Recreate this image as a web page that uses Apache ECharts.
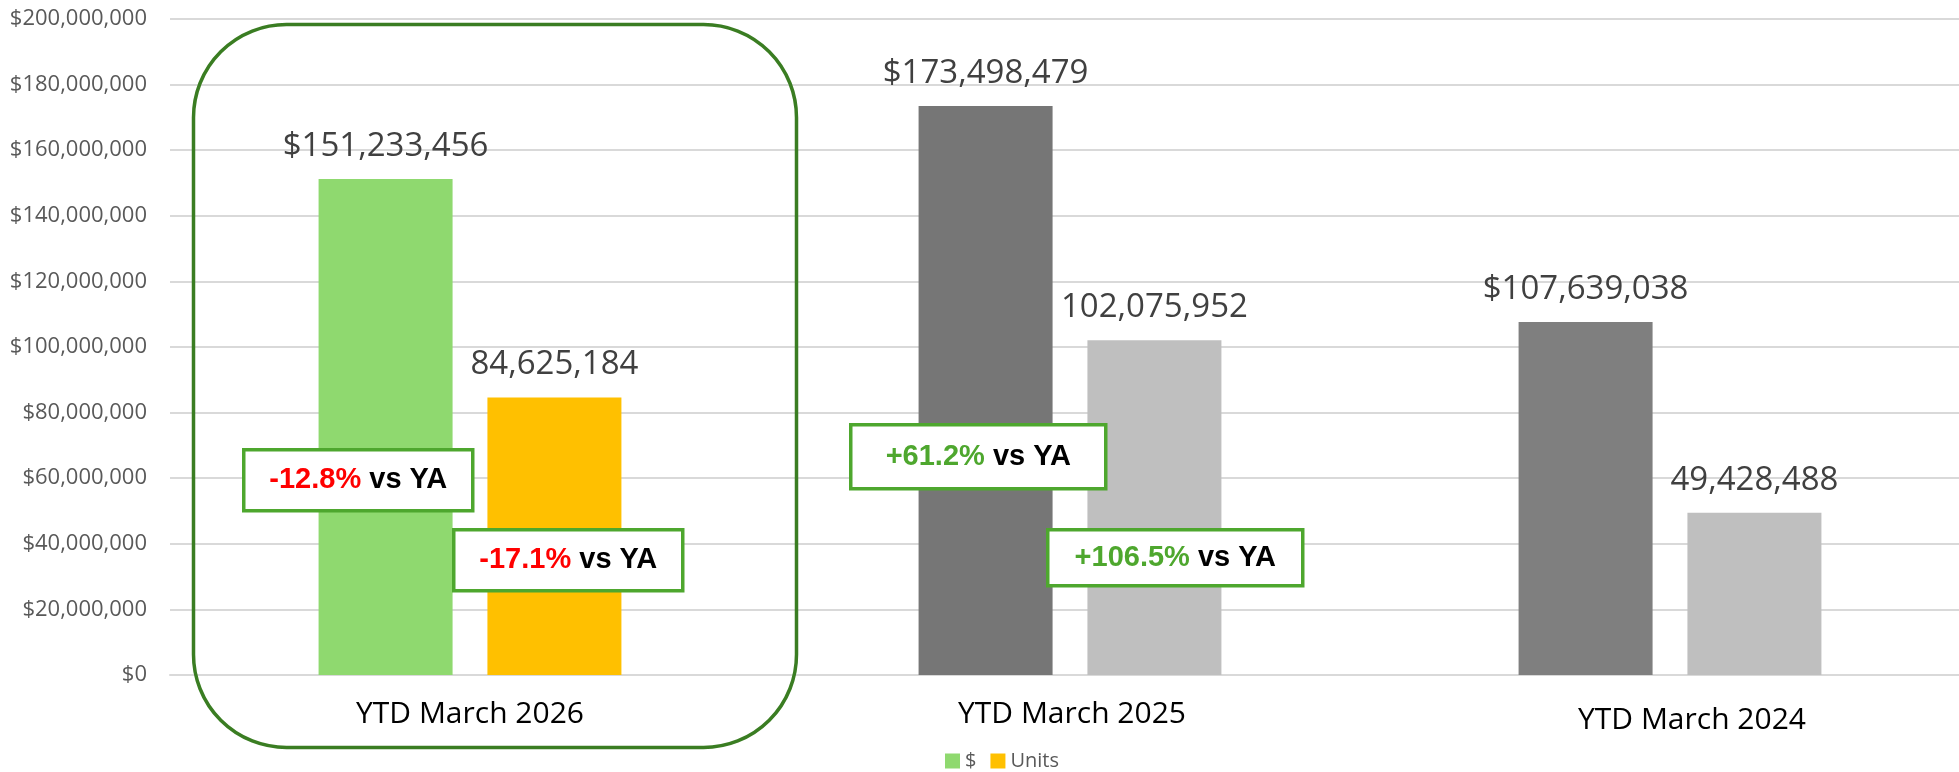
<!DOCTYPE html>
<html>
<head>
<meta charset="utf-8">
<title>YTD March</title>
<script src="https://cdn.jsdelivr.net/npm/echarts@6/dist/echarts.min.js"></script>
<style>
  html, body { margin: 0; padding: 0; background: #fff; }
  #bar-echart { width: 1959px; height: 772px; }
</style>
</head>
<body>
<div id="bar-echart"></div>
<script>
// chart data
const categories = ['YTD March 2026', 'YTD March 2025', 'YTD March 2024'];
const dollarValues = [151233456, 173498479, 107639038];
const unitValues = [84625184, 102075952, 49428488];
const dollarColors = ['#8FD96F', '#767676', '#7F7F7F'];
const unitColors = ['#FFC000', '#BFBFBF', '#BFBFBF'];
const yTicks = [0, 20000000, 40000000, 60000000, 80000000, 100000000, 120000000, 140000000, 160000000, 180000000, 200000000];

// vs year-ago call-outs (only 2026 and 2025 have them)
const dollarChange = ['-12.8%', '+61.2%'];
const unitChange = ['-17.1%', '+106.5%'];

function fmt(v) {
  return v.toLocaleString('en-US');
}

function calloutBox(x, y, w, h, pct) {
  const style = pct.charAt(0) === '-' ? 'neg' : 'pos';
  return {
    type: 'group',
    left: x,
    top: y,
    z: 100,
    children: [
      {
        type: 'rect',
        z: 100,
        shape: { x: 0, y: 0, width: w, height: h },
        style: { fill: '#fff', stroke: '#4EA72E', lineWidth: 3.5 }
      },
      {
        type: 'text',
        z: 101,
        x: w / 2,
        y: h / 2,
        style: {
          text: '{' + style + '|' + pct + '}{blk| vs YA}',
          align: 'center',
          verticalAlign: 'middle',
          rich: {
            neg: { fontFamily: 'Liberation Sans', fontWeight: 'bold', fontSize: 29, fill: '#FF0000' },
            pos: { fontFamily: 'Liberation Sans', fontWeight: 'bold', fontSize: 29, fill: '#4EA72E' },
            blk: { fontFamily: 'Liberation Sans', fontWeight: 'bold', fontSize: 29, fill: '#000' }
          }
        }
      }
    ]
  };
}

function makeBarEchart() {
  const myEchart = echarts.init(document.getElementById('bar-echart'));

  const option = {
    animation: false,
    textStyle: { fontFamily: 'Open Sans' },
    grid: { left: 170, right: -11, top: 19, bottom: 97, outerBoundsMode: 'none' },
    legend: {
      left: 940,
      top: 746,
      itemWidth: 15,
      itemHeight: 15,
      itemGap: 14,
      icon: 'rect',
      textStyle: { fontSize: 20, color: '#595959' },
      data: ['$', 'Units']
    },
    xAxis: {
      type: 'category',
      data: [
        { value: categories[0] },
        { value: categories[1], textStyle: { padding: [0, 0, 0, 4] } },
        { value: categories[2], textStyle: { padding: [6, 0, 0, 44] } }
      ],
      axisTick: { show: false },
      axisLine: { lineStyle: { color: '#D9D9D9', width: 2 } },
      axisLabel: { color: '#000', fontSize: 30, margin: 24 }
    },
    yAxis: {
      type: 'value',
      min: yTicks[0],
      max: yTicks[yTicks.length - 1],
      interval: yTicks[1] - yTicks[0],
      axisLabel: {
        color: '#595959',
        fontSize: 22,
        margin: 23,
        formatter: function (v) { return '$' + fmt(v); }
      },
      splitLine: { lineStyle: { color: '#D9D9D9', width: 2 } }
    },
    series: [
      {
        name: '$',
        type: 'bar',
        barWidth: 134,
        barGap: '26%',
        itemStyle: { color: dollarColors[0] },
        label: {
          show: true,
          position: 'top',
          distance: 16,
          fontSize: 33,
          color: '#404040',
          formatter: function (p) { return '$' + fmt(p.value); }
        },
        data: dollarValues.map(function (v, i) {
          return { value: v, itemStyle: { color: dollarColors[i] } };
        })
      },
      {
        name: 'Units',
        type: 'bar',
        barWidth: 134,
        barGap: '26%',
        itemStyle: { color: unitColors[0] },
        label: {
          show: true,
          position: 'top',
          distance: 16,
          fontSize: 33,
          color: '#404040',
          formatter: function (p) { return fmt(p.value); }
        },
        data: unitValues.map(function (v, i) {
          return { value: v, itemStyle: { color: unitColors[i] } };
        })
      }
    ],
    graphic: [
      {
        type: 'rect',
        left: 191,
        top: 22,
        z: 90,
        shape: { x: 0, y: 0, width: 603, height: 723, r: 93 },
        style: { fill: 'none', stroke: '#3A7D22', lineWidth: 3.5 }
      },
      calloutBox(242, 448, 229, 61, dollarChange[0]),
      calloutBox(452, 528, 229, 61, unitChange[0]),
      calloutBox(849, 423, 255, 64, dollarChange[1]),
      calloutBox(1046, 528, 255, 56, unitChange[1])
    ]
  };

  myEchart.setOption(option);
}

makeBarEchart();
</script>
</body>
</html>
